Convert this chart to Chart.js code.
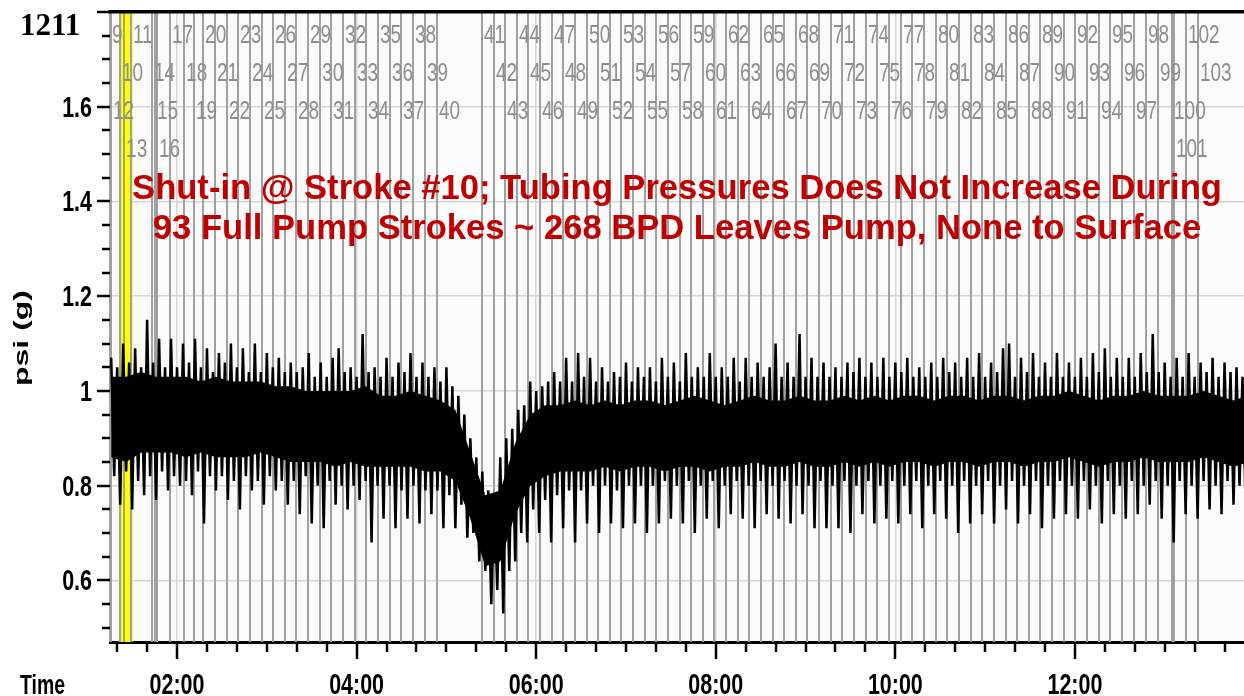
<!DOCTYPE html>
<html>
<head>
<meta charset="utf-8">
<title>1211 tubing pressure</title>
<script src="https://cdn.jsdelivr.net/npm/chart.js@4.4.1/dist/chart.umd.min.js"></script>
<style>
  html, body { margin: 0; padding: 0; background: #fff; }
</style>
</head>
<body>
<canvas id="psiChart" width="1244" height="696"></canvas>
<script>
// x values are minutes after midnight
const startMinute = 76;
const stepMinutes = 2;

// tubing pressure swings, psi (g) (high / low pairs)
const psiValues = [
  1.07,0.82, 1.05,0.76, 1.10,0.83, 1.06,0.75, 1.09,0.81, 1.05,0.78, 1.15,0.82, 1.06,0.77, 1.11,0.83, 1.05,0.79,
  1.11,0.82, 1.05,0.80, 1.10,0.81, 1.06,0.78, 1.11,0.83, 1.05,0.72, 1.09,0.82, 1.04,0.79, 1.08,0.82, 1.06,0.77,
  1.10,0.81, 1.05,0.75, 1.09,0.82, 1.04,0.79, 1.10,0.81, 1.04,0.76, 1.08,0.82, 1.05,0.79, 1.07,0.81, 1.04,0.76,
  1.06,0.81, 1.04,0.74, 1.05,0.82, 1.08,0.72, 1.03,0.80, 1.06,0.71, 1.03,0.81, 1.07,0.76, 1.09,0.80, 1.04,0.75,
  1.05,0.80, 1.03,0.77, 1.12,0.81, 1.04,0.68, 1.05,0.80, 1.03,0.73, 1.07,0.80, 1.03,0.71, 1.06,0.79, 1.04,0.73,
  1.08,0.80, 1.03,0.72, 1.06,0.79, 1.03,0.74, 1.05,0.79, 1.02,0.71, 1.05,0.78, 1.01,0.71, 0.99,0.76, 0.95,0.69,
  0.90,0.70, 0.86,0.64, 0.83,0.62, 0.79,0.55, 0.78,0.58, 0.86,0.53, 0.90,0.62, 0.92,0.64, 0.96,0.70, 0.97,0.68,
  1.02,0.75, 1.00,0.70, 1.01,0.77, 1.02,0.68, 1.04,0.78, 1.02,0.71, 1.07,0.79, 1.02,0.68, 1.08,0.79, 1.03,0.72,
  1.07,0.80, 1.02,0.70, 1.05,0.80, 1.02,0.72, 1.04,0.79, 1.03,0.71, 1.06,0.80, 1.02,0.72, 1.05,0.80, 1.03,0.70,
  1.05,0.80, 1.02,0.72, 1.07,0.81, 1.03,0.73, 1.06,0.80, 1.02,0.72, 1.08,0.81, 1.03,0.70, 1.05,0.80, 1.03,0.73,
  1.08,0.81, 1.03,0.71, 1.05,0.80, 1.03,0.74, 1.07,0.81, 1.02,0.73, 1.07,0.80, 1.03,0.71, 1.06,0.81, 1.03,0.74,
  1.05,0.80, 1.10,0.73, 1.03,0.81, 1.06,0.72, 1.03,0.80, 1.12,0.74, 1.03,0.80, 1.07,0.71, 1.03,0.81, 1.06,0.71,
  1.03,0.80, 1.05,0.71, 1.03,0.81, 1.06,0.70, 1.04,0.80, 1.07,0.74, 1.03,0.81, 1.06,0.72, 1.03,0.80, 1.07,0.73,
  1.03,0.81, 1.06,0.72, 1.04,0.80, 1.07,0.74, 1.03,0.81, 1.05,0.71, 1.03,0.80, 1.06,0.74, 1.03,0.81, 1.07,0.73,
  1.04,0.80, 1.06,0.70, 1.03,0.81, 1.07,0.72, 1.03,0.80, 1.08,0.74, 1.03,0.81, 1.06,0.72, 1.04,0.80, 1.09,0.75,
  1.10,0.81, 1.03,0.72, 1.07,0.80, 1.04,0.74, 1.08,0.81, 1.03,0.71, 1.06,0.80, 1.03,0.73, 1.08,0.81, 1.03,0.74,
  1.06,0.80, 1.03,0.73, 1.07,0.81, 1.03,0.75, 1.08,0.80, 1.04,0.72, 1.09,0.81, 1.03,0.74, 1.07,0.80, 1.03,0.73,
  1.07,0.81, 1.03,0.74, 1.08,0.80, 1.04,0.76, 1.12,0.81, 1.04,0.73, 1.06,0.80, 1.03,0.68, 1.07,0.81, 1.03,0.74,
  1.08,0.80, 1.03,0.73, 1.06,0.81, 1.04,0.75, 1.07,0.80, 1.03,0.74, 1.06,0.81, 1.04,0.76, 1.05,0.80, 1.03,0.77
];

// solid black body of the trace, every 10 minutes
const coreStartMinute = 76;
const coreStepMinutes = 10;
const coreTop = [
  1.03, 1.03, 1.04, 1.03, 1.03, 1.03, 1.02, 1.03, 1.02, 1.02, 1.02, 1.01,
  1.01, 1.00, 1.00, 1.00, 1.00, 1.01, 0.99, 0.99, 1.00, 0.99, 0.98, 0.96,
  0.87, 0.78, 0.79, 0.89, 0.95, 0.97, 0.97, 0.98, 0.97, 0.98, 0.97, 0.98,
  0.98, 0.97, 0.98, 0.99, 0.98, 0.97, 0.98, 0.99, 0.98, 0.98, 0.99, 0.98,
  0.98, 0.99, 0.98, 0.99, 0.98, 0.99, 0.99, 0.98, 0.99, 0.99, 0.98, 0.99,
  0.99, 0.98, 0.99, 0.99, 1.00, 0.99, 0.98, 0.99, 0.99, 1.00, 0.99, 0.99,
  0.99, 1.00, 0.99, 0.98, 0.99
];
const coreBottom = [
  0.86, 0.85, 0.87, 0.87, 0.87, 0.86, 0.87, 0.86, 0.86, 0.86, 0.87, 0.86,
  0.85, 0.85, 0.85, 0.84, 0.85, 0.84, 0.84, 0.84, 0.84, 0.83, 0.83, 0.81,
  0.73, 0.63, 0.64, 0.74, 0.80, 0.82, 0.83, 0.83, 0.83, 0.84, 0.83, 0.84,
  0.84, 0.83, 0.84, 0.84, 0.83, 0.84, 0.84, 0.85, 0.84, 0.84, 0.85, 0.84,
  0.84, 0.85, 0.84, 0.85, 0.84, 0.85, 0.85, 0.84, 0.85, 0.85, 0.84, 0.85,
  0.85, 0.84, 0.85, 0.85, 0.86, 0.85, 0.84, 0.85, 0.85, 0.86, 0.85, 0.85,
  0.85, 0.86, 0.85, 0.84, 0.85
];

// pump stroke markers
const strokeNumbers = [
  9, 10, 11, 12, 13, 14, 15, 16, 17, 18, 19, 20, 21, 22, 23, 24, 25, 26, 27, 28,
  29, 30, 31, 32, 33, 34, 35, 36, 37, 38, 39, 40, 41, 42, 43, 44, 45, 46, 47, 48,
  49, 50, 51, 52, 53, 54, 55, 56, 57, 58, 59, 60, 61, 62, 63, 64, 65, 66, 67, 68,
  69, 70, 71, 72, 73, 74, 75, 76, 77, 78, 79, 80, 81, 82, 83, 84, 85, 86, 87, 88,
  89, 90, 91, 92, 93, 94, 95, 96, 97, 98, 99, 100, 101, 102, 103
];
const strokeTimes = [
  75.2, 81.9, 89.2, 75.9, 84.6, 103.3, 105.3, 106.6, 115.3, 124.7,
  131.3, 137.4, 145.4, 153.4, 160.8, 168.8, 176.8, 184.1, 192.2, 199.5,
  207.5, 215.6, 222.9, 230.9, 238.9, 246.3, 254.3, 262.3, 269.7, 277.7,
  285.7, 293.7, 323.8, 331.8, 339.2, 347.2, 354.5, 362.6, 370.6, 377.9,
  385.9, 394.0, 401.3, 409.3, 416.7, 424.7, 432.7, 440.1, 448.1, 456.1,
  463.5, 471.5, 478.8, 486.8, 494.9, 502.2, 510.2, 518.2, 525.6, 533.6,
  541.0, 549.0, 557.0, 564.4, 572.4, 580.4, 587.7, 595.8, 603.8, 611.1,
  619.2, 627.2, 634.5, 642.5, 650.6, 657.9, 665.9, 673.9, 681.3, 689.3,
  696.7, 704.7, 712.7, 720.0, 728.1, 736.1, 743.4, 751.5, 759.5, 767.5,
  775.5, 784.9, 786.2, 794.2, 802.2
];

// shut-in window (yellow)
const shutInStart = 82.0;
const shutInEnd = 90.3;

const timeTickMinutes = [120, 240, 360, 480, 600, 720];
const timeTickLabels = ['02:00', '04:00', '06:00', '08:00', '10:00', '12:00'];
const psiTicks = [0.6, 0.8, 1.0, 1.2, 1.4, 1.6];
const psiTickLabels = ['0.6', '0.8', '1', '1.2', '1.4', '1.6'];

const noteLines = [
  'Shut-in @ Stroke #10; Tubing Pressures Does Not Increase During',
  '93 Full Pump Strokes ~ 268 BPD Leaves Pump, None to Surface'
];

const SANS = '"Liberation Sans", Arial, sans-serif';

// no condensed face installed, so squeeze the text horizontally
function squeezedText(ctx, text, x, y, sx, align) {
  ctx.save();
  ctx.translate(x, y);
  ctx.scale(sx, 1);
  ctx.textAlign = align;
  ctx.fillText(text, 0, 0);
  ctx.restore();
}

const decor = {
  id: 'decor',
  beforeDraw(chart) {
    const { ctx, chartArea: a } = chart;
    ctx.save();
    ctx.fillStyle = '#fbfbfb';
    ctx.fillRect(a.left, a.top, a.right - a.left, a.bottom - a.top);
    ctx.restore();
  },
  beforeDatasetsDraw(chart) {
    const { ctx, chartArea: a } = chart;
    const x = chart.scales.x;
    ctx.save();
    // yellow shut-in band
    const b0 = x.getPixelForValue(shutInStart);
    const b1 = x.getPixelForValue(shutInEnd);
    ctx.fillStyle = '#ffff00';
    ctx.fillRect(b0, a.top, b1 - b0, a.bottom - a.top);

    // stroke marker lines
    ctx.strokeStyle = '#a0a0a0';
    ctx.lineWidth = 2;
    strokeTimes.forEach(t => {
      const px = Math.round(x.getPixelForValue(t));
      ctx.beginPath();
      ctx.moveTo(px, a.top);
      ctx.lineTo(px, a.bottom);
      ctx.stroke();
    });

    // stroke numbers, stacked in rows so they don't collide
    const sx = 0.76;
    ctx.font = '25px ' + SANS;
    ctx.fillStyle = '#8e8e8e';
    ctx.textBaseline = 'alphabetic';
    const rowEnds = [-1e9, -1e9, -1e9, -1e9];
    strokeNumbers.forEach((n, i) => {
      const px = x.getPixelForValue(strokeTimes[i]) + 2;
      const txt = String(n);
      const w = ctx.measureText(txt).width * sx;
      let row = rowEnds.findIndex(e => e + 8 <= px);
      if (row < 0) row = rowEnds.indexOf(Math.min(...rowEnds));
      rowEnds[row] = px + w;
      squeezedText(ctx, txt, px, a.top + 31 + row * 38, sx, 'left');
    });
    ctx.restore();
  },
  afterDraw(chart) {
    const { ctx, chartArea: a } = chart;
    const x = chart.scales.x, y = chart.scales.y;
    ctx.save();
    // top frame line
    ctx.fillStyle = '#000';
    ctx.fillRect(a.left - 1.5, a.top - 2, a.right - a.left + 1.5, 3.5);

    // tick marks, minor every 20 min / 0.05 psi
    ctx.strokeStyle = '#000';
    ctx.lineWidth = 2.5;
    for (let m = 80; m <= 820; m += 20) {
      const px = Math.round(x.getPixelForValue(m));
      const len = m % 120 === 0 ? 17 : 10;
      ctx.beginPath();
      ctx.moveTo(px, a.bottom);
      ctx.lineTo(px, a.bottom + len);
      ctx.stroke();
    }
    for (let i = 10; i <= 36; i++) {
      const py = Math.round(y.getPixelForValue(i * 0.05));
      const len = i % 4 === 0 ? 13 : 8;
      ctx.beginPath();
      ctx.moveTo(a.left - len, py);
      ctx.lineTo(a.left, py);
      ctx.stroke();
    }

    // tick labels
    ctx.fillStyle = '#000';
    ctx.font = 'bold 29px ' + SANS;
    ctx.textBaseline = 'alphabetic';
    timeTickMinutes.forEach((m, i) => {
      squeezedText(ctx, timeTickLabels[i], x.getPixelForValue(m), 694, 0.74, 'center');
    });
    psiTicks.forEach((v, i) => {
      squeezedText(ctx, psiTickLabels[i], a.left - 18, y.getPixelForValue(v) + 10, 0.74, 'right');
    });

    // axis titles
    ctx.font = 'bold 27px ' + SANS;
    squeezedText(ctx, 'Time', 20, 694, 0.72, 'left');

    ctx.save();
    ctx.translate(22, 338);
    ctx.rotate(-Math.PI / 2);
    ctx.scale(1.6, 1);
    ctx.textAlign = 'center';
    ctx.textBaseline = 'middle';
    ctx.font = 'bold 20px ' + SANS;
    ctx.fillText('psi (g)', 0, 0);
    ctx.restore();

    // red note
    ctx.fillStyle = '#c00000';
    ctx.font = 'bold 34.6px ' + SANS;
    ctx.textAlign = 'center';
    ctx.textBaseline = 'middle';
    const cx = (a.left + a.right) / 2;
    noteLines.forEach((t, i) => ctx.fillText(t, cx, 189 + i * 40));

    // well id
    ctx.fillStyle = '#000';
    ctx.textAlign = 'left';
    ctx.textBaseline = 'alphabetic';
    ctx.font = 'bold 31px "Liberation Serif", "Times New Roman", serif';
    ctx.fillText('1211', 20, 35);
    ctx.restore();
  }
};

const coreAt = arr => arr.map((v, i) => ({ x: coreStartMinute + i * coreStepMinutes, y: v }));

new Chart(document.getElementById('psiChart'), {
  type: 'line',
  data: {
    datasets: [
      {
        data: psiValues.map((v, i) => ({ x: startMinute + i * stepMinutes, y: v })),
        borderColor: '#000',
        borderWidth: 2.5,
        pointRadius: 0,
        tension: 0,
        fill: false,
        order: 0
      },
      {
        data: coreAt(coreTop),
        borderWidth: 0,
        backgroundColor: '#000',
        pointRadius: 0,
        fill: '+1',
        order: 1
      },
      {
        data: coreAt(coreBottom),
        borderWidth: 0,
        pointRadius: 0,
        fill: false,
        order: 1
      }
    ]
  },
  options: {
    responsive: false,
    animation: false,
    devicePixelRatio: 1,
    events: [],
    layout: { padding: { top: 12, right: 0, bottom: 0, left: 0 } },
    plugins: { legend: { display: false }, tooltip: { enabled: false } },
    scales: {
      x: {
        type: 'linear',
        min: 75.2,
        max: 833,
        afterBuildTicks: s => { s.ticks = timeTickMinutes.map(v => ({ value: v })); },
        afterFit: s => { s.height = 54; },
        ticks: { display: false },
        grid: { color: '#d6d6d6', lineWidth: 1.5, drawTicks: false },
        border: { color: '#000', width: 3 }
      },
      y: {
        min: 0.47,
        max: 1.8,
        afterBuildTicks: s => { s.ticks = psiTicks.map(v => ({ value: v })); },
        afterFit: s => { s.width = 110; },
        ticks: { display: false },
        grid: { color: '#d6d6d6', lineWidth: 1.5, drawTicks: false },
        border: { color: '#000', width: 3 }
      }
    }
  },
  plugins: [decor]
});
</script>
</body>
</html>
